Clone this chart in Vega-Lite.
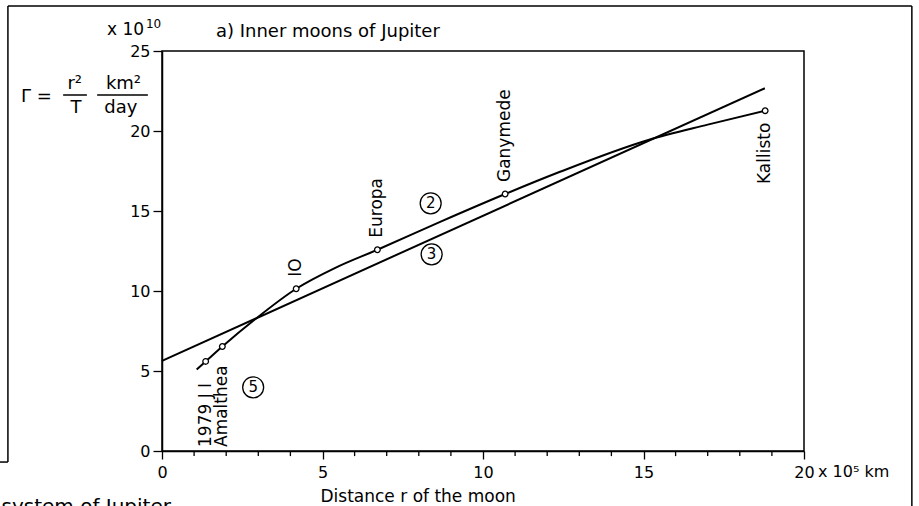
{
  "$schema": "https://vega.github.io/schema/vega-lite/v6.json",
  "width": 642,
  "height": 400,
  "autosize": {"type": "none"},
  "padding": {"left": 162, "top": 51, "right": 115, "bottom": 55},
  "background": "white",
  "config": {
    "font": "DejaVu Sans",
    "view": {"stroke": "black", "strokeWidth": 1.5},
    "axis": {"domainColor": "black", "domainWidth": 1.5, "tickColor": "black", "tickWidth": 1.3, "labelColor": "black", "titleColor": "black", "labelFont": "DejaVu Sans", "titleFont": "DejaVu Sans", "labelFontSize": 16, "titleFontSize": 17, "titleFontWeight": "normal", "grid": false},
    "text": {"font": "DejaVu Sans", "fontSize": 17, "color": "black"}
  },
  "datasets": {
    "moons": [
      {"name": "1979 J I", "r": 1.36, "gamma": 5.6},
      {"name": "Amalthea", "r": 1.88, "gamma": 6.53},
      {"name": "IO", "r": 4.18, "gamma": 10.14},
      {"name": "Europa", "r": 6.71, "gamma": 12.58},
      {"name": "Ganymede", "r": 10.69, "gamma": 16.06},
      {"name": "Kallisto", "r": 18.79, "gamma": 21.27}
    ],
    "curve5": [
      {"r": 1.08, "gamma": 5.1},
      {"r": 1.36, "gamma": 5.6},
      {"r": 1.88, "gamma": 6.53},
      {"r": 2.9, "gamma": 8.23},
      {"r": 4.18, "gamma": 10.14},
      {"r": 5.4, "gamma": 11.45},
      {"r": 6.71, "gamma": 12.58},
      {"r": 8.7, "gamma": 14.35},
      {"r": 10.69, "gamma": 16.06},
      {"r": 12.4, "gamma": 17.45},
      {"r": 15.15, "gamma": 19.44},
      {"r": 17.0, "gamma": 20.4},
      {"r": 18.79, "gamma": 21.27}
    ],
    "line3": [
      {"r": 0, "gamma": 5.63},
      {"r": 18.78, "gamma": 22.67}
    ],
    "circled": [
      {"n": "2", "r": 8.37, "gamma": 15.48},
      {"n": "3", "r": 8.4, "gamma": 12.29},
      {"n": "5", "r": 2.84, "gamma": 3.98}
    ],
    "minorTicks": [
      {"r": 1}, {"r": 2}, {"r": 3}, {"r": 4},
      {"r": 6}, {"r": 7}, {"r": 8}, {"r": 9},
      {"r": 11}, {"r": 12}, {"r": 13}, {"r": 14},
      {"r": 16}, {"r": 17}, {"r": 18}, {"r": 19}
    ]
  },
  "layer": [
    {
      "data": {"name": "curve5"},
      "mark": {"type": "line", "interpolate": "monotone", "color": "black", "strokeWidth": 2},
      "encoding": {
        "x": {
          "field": "r", "type": "quantitative",
          "scale": {"domain": [0, 20], "nice": false, "zero": false},
          "axis": {
            "values": [0, 5, 10, 15, 20],
            "tickSize": 8,
            "labelPadding": 5,
            "labelFlush": false,
            "labelOverlap": false,
            "title": "Distance r of the moon",
            "titleAnchor": "start",
            "titleX": 158,
            "titlePadding": 8
          }
        },
        "y": {
          "field": "gamma", "type": "quantitative",
          "scale": {"domain": [0, 25], "nice": false, "zero": false},
          "axis": {
            "values": [0, 5, 10, 15, 20, 25],
            "tickSize": 9,
            "labelPadding": 3,
            "title": null
          }
        }
      }
    },
    {
      "data": {"name": "line3"},
      "mark": {"type": "line", "color": "black", "strokeWidth": 2},
      "encoding": {
        "x": {"field": "r", "type": "quantitative"},
        "y": {"field": "gamma", "type": "quantitative"}
      }
    },
    {
      "data": {"name": "minorTicks"},
      "mark": {"type": "rule", "color": "black", "strokeWidth": 1.3},
      "encoding": {
        "x": {"field": "r", "type": "quantitative"},
        "y": {"datum": 0},
        "y2": {"datum": -0.32}
      }
    },
    {
      "data": {"name": "moons"},
      "mark": {"type": "point", "shape": "circle", "filled": true, "fill": "white", "stroke": "black", "strokeWidth": 1.3, "size": 32, "opacity": 1},
      "encoding": {
        "x": {"field": "r", "type": "quantitative"},
        "y": {"field": "gamma", "type": "quantitative"}
      }
    },
    {
      "data": {"name": "moons"},
      "transform": [{"filter": "datum.name === 'IO' || datum.name === 'Europa' || datum.name === 'Ganymede'"}],
      "mark": {"type": "text", "angle": 270, "align": "left", "baseline": "middle", "dx": 12, "fontSize": 17},
      "encoding": {
        "x": {"field": "r", "type": "quantitative"},
        "y": {"field": "gamma", "type": "quantitative"},
        "text": {"field": "name"}
      }
    },
    {
      "data": {"name": "moons"},
      "transform": [{"filter": "datum.name === 'Kallisto'"}],
      "mark": {"type": "text", "angle": 270, "align": "right", "baseline": "middle", "dx": -12, "fontSize": 17},
      "encoding": {
        "x": {"field": "r", "type": "quantitative"},
        "y": {"field": "gamma", "type": "quantitative"},
        "text": {"field": "name"}
      }
    },
    {
      "data": {"name": "moons"},
      "transform": [{"filter": "datum.name === '1979 J I' || datum.name === 'Amalthea'"}],
      "mark": {"type": "text", "angle": 270, "align": "left", "baseline": "middle", "dx": 4, "fontSize": 17},
      "encoding": {
        "x": {"field": "r", "type": "quantitative"},
        "y": {"datum": 0},
        "text": {"field": "name"}
      }
    },
    {
      "data": {"name": "circled"},
      "mark": {"type": "point", "shape": "circle", "filled": false, "color": "black", "strokeWidth": 1.3, "size": 440, "opacity": 1},
      "encoding": {
        "x": {"field": "r", "type": "quantitative"},
        "y": {"field": "gamma", "type": "quantitative"}
      }
    },
    {
      "data": {"name": "circled"},
      "mark": {"type": "text", "align": "center", "baseline": "middle", "fontSize": 15},
      "encoding": {
        "x": {"field": "r", "type": "quantitative"},
        "y": {"field": "gamma", "type": "quantitative"},
        "text": {"field": "n"}
      }
    },
    {
      "data": {"values": [{}]},
      "mark": {"type": "text", "text": "a) Inner moons of Jupiter", "align": "left", "baseline": "alphabetic", "fontSize": 18},
      "encoding": {"x": {"datum": 1.68}, "y": {"datum": 25.89}}
    },
    {
      "data": {"values": [{}]},
      "mark": {"type": "text", "text": "x 10", "align": "right", "baseline": "alphabetic", "fontSize": 17},
      "encoding": {"x": {"datum": -0.56}, "y": {"datum": 25.97}}
    },
    {
      "data": {"values": [{}]},
      "mark": {"type": "text", "text": "10", "align": "left", "baseline": "alphabetic", "fontSize": 12},
      "encoding": {"x": {"datum": -0.5}, "y": {"datum": 26.44}}
    },
    {
      "data": {"values": [{}]},
      "mark": {"type": "text", "text": "x 10⁵ km", "align": "left", "baseline": "top", "dx": 14, "dy": 13, "fontSize": 16},
      "encoding": {"x": {"datum": 20}, "y": {"datum": 0}}
    },
    {
      "data": {"values": [{}]},
      "mark": {"type": "text", "text": "Γ =", "align": "left", "baseline": "middle", "fontSize": 18},
      "encoding": {"x": {"datum": -4.39}, "y": {"datum": 22.13}}
    },
    {
      "data": {"values": [{}]},
      "mark": {"type": "text", "text": "r²", "align": "center", "baseline": "alphabetic", "fontSize": 18},
      "encoding": {"x": {"datum": -2.72}, "y": {"datum": 22.64}}
    },
    {
      "data": {"values": [{}]},
      "mark": {"type": "text", "text": "T", "align": "center", "baseline": "alphabetic", "fontSize": 18},
      "encoding": {"x": {"datum": -2.68}, "y": {"datum": 21.1}}
    },
    {
      "data": {"values": [{}]},
      "mark": {"type": "text", "text": "km²", "align": "center", "baseline": "alphabetic", "fontSize": 18},
      "encoding": {"x": {"datum": -1.2}, "y": {"datum": 22.64}}
    },
    {
      "data": {"values": [{}]},
      "mark": {"type": "text", "text": "day", "align": "center", "baseline": "alphabetic", "fontSize": 18},
      "encoding": {"x": {"datum": -1.28}, "y": {"datum": 21.1}}
    },
    {
      "data": {"values": [{}]},
      "mark": {"type": "rule", "color": "black", "strokeWidth": 1.5},
      "encoding": {"x": {"datum": -3.08}, "x2": {"datum": -2.34}, "y": {"datum": 22.25}}
    },
    {
      "data": {"values": [{}]},
      "mark": {"type": "rule", "color": "black", "strokeWidth": 1.5},
      "encoding": {"x": {"datum": -2.02}, "x2": {"datum": -0.44}, "y": {"datum": 22.25}}
    },
    {
      "data": {"values": [{}]},
      "mark": {"type": "rule", "color": "black", "strokeWidth": 1.5},
      "encoding": {"x": {"datum": -4.8}, "x2": {"datum": 23.36}, "y": {"datum": 27.81}}
    },
    {
      "data": {"values": [{}]},
      "mark": {"type": "rule", "color": "black", "strokeWidth": 1.5},
      "encoding": {"x": {"datum": -4.8}, "y": {"datum": 27.81}, "y2": {"datum": -0.69}}
    },
    {
      "data": {"values": [{}]},
      "mark": {"type": "rule", "color": "black", "strokeWidth": 1.5},
      "encoding": {"x": {"datum": -5.1}, "x2": {"datum": -4.8}, "y": {"datum": -0.69}}
    },
    {
      "data": {"values": [{}]},
      "mark": {"type": "rule", "color": "black", "strokeWidth": 1.5},
      "encoding": {"x": {"datum": 23.36}, "y": {"datum": 27.81}, "y2": {"datum": -3.6}}
    },
    {
      "data": {"values": [{}]},
      "mark": {"type": "text", "text": "system of Jupiter", "align": "left", "baseline": "top", "fontSize": 20},
      "encoding": {"x": {"datum": -5.0}, "y": {"datum": -2.85}}
    }
  ]
}
